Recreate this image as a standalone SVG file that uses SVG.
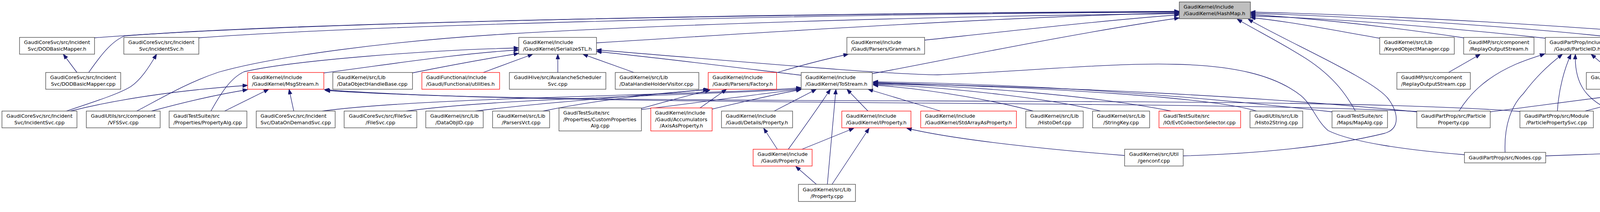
<svg xmlns="http://www.w3.org/2000/svg" width="5177" height="544" viewBox="0 0 5177 544">
<style>
.node rect{fill:#ffffff;stroke:#404040;stroke-width:1.3}
.node.red rect{stroke:#ff0000}
.node.root rect{fill:#bfbfbf}
.node text{font-family:"DejaVu Sans","Liberation Sans",sans-serif;font-size:12.8px;fill:#000000}
.node text.c{text-anchor:middle}
#edges path{fill:none;stroke:#191970;stroke-width:1.3;marker-end:url(#arr)}
</style>
<defs>
<marker id="arr" viewBox="0 0 13 10" refX="13" refY="5" markerWidth="13" markerHeight="10" markerUnits="userSpaceOnUse" orient="auto">
<path d="M0,0L13,5L0,10z" fill="#191970" stroke="#191970" stroke-width="1"/>
</marker>
</defs>
<rect x="0" y="0" width="5177" height="544" fill="#ffffff"/>
<g id="edges">
<path d="M242,97 C650,65 1700,36 3019,29"/>
<path d="M227,186 C255,146 285,105 320,92 C700,62 1700,38 3019,30"/>
<path d="M509,97 C900,68 1900,38 3019,31"/>
<path d="M1527,110 C2000,80 2600,42 3019,33"/>
<path d="M350,285 C420,248 480,212 560,185 C700,145 1000,105 1300,87 C1800,58 2500,40 3019,35"/>
<path d="M2367,103 C2600,78 2850,50 3019,38"/>
<path d="M2233,189 C2450,148 2750,85 3019,46"/>
<path d="M197,186 L162,139"/>
<path d="M170,285 C260,255 310,238 335,222 C360,205 380,175 401,139"/>
<path d="M180,285 C300,255 450,232 634,219"/>
<path d="M388,285 C450,268 540,245 634,230"/>
<path d="M540,285 C565,240 590,200 625,184 C750,155 1100,128 1328,123"/>
<path d="M575,285 L688,229"/>
<path d="M752,285 L740,229"/>
<path d="M825,285 C1100,248 1800,245 2051,225"/>
<path d="M829,187 C1000,165 1150,140 1328,128"/>
<path d="M1056,187 C1150,168 1250,150 1328,137"/>
<path d="M1237,186 L1364,139"/>
<path d="M1428,186 L1428,139"/>
<path d="M1623,186 L1492,139"/>
<path d="M1040,285 C1300,250 1800,245 2051,228"/>
<path d="M1217,285 C1400,262 1650,245 1815,229"/>
<path d="M1390,285 C1500,262 1650,242 1813,230"/>
<path d="M1642,278 C1700,262 1760,245 1818,231"/>
<path d="M1642,281 C1800,262 1950,240 2051,229"/>
<path d="M1792,277 L1860,229"/>
<path d="M1823,280 C1900,262 1990,240 2051,230"/>
<path d="M1990,186 C2060,165 2120,150 2172,139"/>
<path d="M2051,193 C1900,175 1700,150 1527,132"/>
<path d="M1982,285 L2090,229"/>
<path d="M1990,383 L1955,329"/>
<path d="M2018,383 C2060,325 2095,275 2126,229"/>
<path d="M2053,383 L2186,329"/>
<path d="M2090,473 L2037,427"/>
<path d="M2118,473 L2140,229"/>
<path d="M2130,473 L2225,329"/>
<path d="M2222,285 L2168,229"/>
<path d="M2408,285 L2222,229"/>
<path d="M2879,399 C2700,385 2450,360 2321,329"/>
<path d="M3029,400 C3200,395 3400,378 3545,342 C3585,330 3580,290 3555,255 C3520,205 3300,110 3195,49"/>
<path d="M2645,285 C2560,262 2400,230 2235,218"/>
<path d="M2817,285 C2700,255 2450,225 2235,216"/>
<path d="M2998,285 C2800,245 2500,222 2235,214"/>
<path d="M3217,285 C3100,250 2700,225 2235,212"/>
<path d="M3410,287 C3000,240 2600,215 2235,210"/>
<path d="M3470,285 C3450,250 3420,200 3343,150 C3280,110 3220,80 3167,49"/>
<path d="M3627,287 C3200,245 2700,222 2235,214"/>
<path d="M3627,286 C3000,255 1400,275 830,230"/>
<path d="M3891,286 C3300,240 1500,278 832,232"/>
<path d="M3735,285 C3760,245 3800,200 3880,165 C3910,152 3935,145 3955,138"/>
<path d="M3815,287 C3950,270 4150,242 4265,230"/>
<path d="M3987,285 C3990,230 4005,175 4022,139"/>
<path d="M4058,285 L4267,231"/>
<path d="M4127,285 C4060,255 4030,215 4033,139"/>
<path d="M4235,285 L4322,230"/>
<path d="M4128,186 L4073,139"/>
<path d="M4288,186 L4123,139"/>
<path d="M3749,397 C3600,385 3460,365 3400,335 C3370,310 3360,270 3330,245 C3260,190 3150,168 3010,165 C2850,160 2600,185 2400,192 C2250,190 1900,158 1527,128"/>
<path d="M3853,391 C3850,320 3870,270 3900,240 C3930,200 3960,170 4000,139"/>
<path d="M3957,400 C4300,388 4800,365 5015,329"/>
<path d="M5072,285 C5040,235 5000,205 4960,185 C4850,155 4400,145 4134,139"/>
<path d="M5039,285 L4925,229"/>
<path d="M4786,193 C4600,170 4300,150 4135,140"/>
<path d="M4871,293 L4871,229"/>
<path d="M4845,293 C4780,265 4600,200 4400,160 C4300,148 4200,142 4135,140"/>
<path d="M4827,293 C4700,265 4550,240 4456,223"/>
<path d="M4426,293 L4380,229"/>
<path d="M4445,293 C4480,250 4490,210 4465,180 C4420,150 4250,143 4135,140"/>
<path d="M4597,285 L4433,229"/>
<path d="M4638,285 C4550,220 4450,160 4135,140"/>
<path d="M3708,186 L3790,139"/>
<path d="M3747,97 C3600,75 3400,50 3201,37"/>
<path d="M3532,98 C3400,75 3300,55 3201,45"/>
<path d="M3956,98 C3700,70 3400,46 3201,41"/>
<path d="M4144,97 C3800,60 3400,40 3201,34"/>
<path d="M4372,97 C3900,55 3400,35 3201,31"/>
</g>
<g id="n0" class="node root"><rect x="3019" y="5" width="182" height="43"/><text x="3030" y="22.4">GaudiKernel/include</text><text x="3030" y="39">/GaudiKernel/HashMap.h</text></g>
<g id="n1" class="node"><rect x="50" y="96" width="192" height="43"/><text class="c" x="146" y="113.4">GaudiCoreSvc/src/Incident</text><text class="c" x="146" y="130">Svc/DODBasicMapper.h</text></g>
<g id="n2" class="node"><rect x="317" y="96" width="192" height="43"/><text class="c" x="413" y="113.4">GaudiCoreSvc/src/Incident</text><text class="c" x="413" y="130">Svc/IncidentSvc.h</text></g>
<g id="n3" class="node"><rect x="1328" y="96" width="199" height="43"/><text x="1339" y="113.4">GaudiKernel/include</text><text x="1339" y="130">/GaudiKernel/SerializeSTL.h</text></g>
<g id="n4" class="node"><rect x="2168" y="96" width="199" height="43"/><text x="2179" y="113.4">GaudiKernel/include</text><text x="2179" y="130">/Gaudi/Parsers/Grammars.h</text></g>
<g id="n5" class="node"><rect x="3532" y="96" width="191" height="43"/><text x="3543" y="113.4">GaudiKernel/src/Lib</text><text x="3543" y="130">/KeyedObjectManager.cpp</text></g>
<g id="n6" class="node"><rect x="3747" y="96" width="180" height="43"/><text class="c" x="3837" y="113.4">GaudiMP/src/component</text><text class="c" x="3837" y="130">/ReplayOutputStream.h</text></g>
<g id="n7" class="node"><rect x="3956" y="96" width="164" height="43"/><text class="c" x="4038" y="113.4">GaudiPartProp/include</text><text class="c" x="4038" y="130">/Gaudi/ParticleID.h</text></g>
<g id="n8" class="node"><rect x="4144" y="96" width="204" height="43"/><text x="4155" y="113.4">GaudiTestSuite/src</text><text x="4155" y="130">/StringKeys/StringKeyEx.cpp</text></g>
<g id="n9" class="node"><rect x="4372" y="96" width="189" height="43"/><text class="c" x="4466.5" y="113.4">GaudiUtils/src/component</text><text class="c" x="4466.5" y="130">/SignalMonitorSvc.cpp</text></g>
<g id="n10" class="node"><rect x="117" y="186" width="192" height="43"/><text class="c" x="213" y="203.4">GaudiCoreSvc/src/Incident</text><text class="c" x="213" y="220">Svc/DODBasicMapper.cpp</text></g>
<g id="n11" class="node red"><rect x="634" y="186" width="195" height="43"/><text x="645" y="203.4">GaudiKernel/include</text><text x="645" y="220">/GaudiKernel/MsgStream.h</text></g>
<g id="n12" class="node"><rect x="852" y="186" width="204" height="43"/><text x="863" y="203.4">GaudiKernel/src/Lib</text><text x="863" y="220">/DataObjectHandleBase.cpp</text></g>
<g id="n13" class="node red"><rect x="1080" y="186" width="199" height="43"/><text x="1091" y="203.4">GaudiFunctional/include</text><text x="1091" y="220">/Gaudi/Functional/utilities.h</text></g>
<g id="n14" class="node"><rect x="1304" y="186" width="247" height="43"/><text class="c" x="1427.5" y="203.4">GaudiHive/src/AvalancheScheduler</text><text class="c" x="1427.5" y="220">Svc.cpp</text></g>
<g id="n15" class="node"><rect x="1575" y="186" width="214" height="43"/><text x="1586" y="203.4">GaudiKernel/src/Lib</text><text x="1586" y="220">/DataHandleHolderVisitor.cpp</text></g>
<g id="n16" class="node red"><rect x="1813" y="186" width="175" height="43"/><text x="1824" y="203.4">GaudiKernel/include</text><text x="1824" y="220">/Gaudi/Parsers/Factory.h</text></g>
<g id="n17" class="node"><rect x="2051" y="186" width="182" height="43"/><text x="2062" y="203.4">GaudiKernel/include</text><text x="2062" y="220">/GaudiKernel/ToStream.h</text></g>
<g id="n18" class="node"><rect x="3576" y="186" width="188" height="43"/><text x="3587" y="203.4">GaudiMP/src/component</text><text x="3587" y="220">/ReplayOutputStream.cpp</text></g>
<g id="n19" class="node"><rect x="4061" y="186" width="189" height="43"/><text class="c" x="4155.5" y="203.4">GaudiPartProp/src/Particle</text><text class="c" x="4155.5" y="220">ID.cpp</text></g>
<g id="n20" class="node red"><rect x="4273" y="186" width="181" height="43"/><text x="4284" y="203.4">GaudiPartProp/include</text><text x="4284" y="220">/Gaudi/ParticleProperty.h</text></g>
<g id="n21" class="node"><rect x="4786" y="186" width="171" height="43"/><text x="4797" y="203.4">GaudiPartProp/include</text><text x="4797" y="220">/Gaudi/Decays/Decay.h</text></g>
<g id="n22" class="node"><rect x="5" y="285" width="192" height="43"/><text class="c" x="101" y="302.4">GaudiCoreSvc/src/Incident</text><text class="c" x="101" y="319">Svc/IncidentSvc.cpp</text></g>
<g id="n23" class="node"><rect x="221" y="285" width="189" height="43"/><text class="c" x="315.5" y="302.4">GaudiUtils/src/component</text><text class="c" x="315.5" y="319">/VFSSvc.cpp</text></g>
<g id="n24" class="node"><rect x="433" y="285" width="199" height="43"/><text x="444" y="302.4">GaudiTestSuite/src</text><text x="444" y="319">/Properties/PropertyAlg.cpp</text></g>
<g id="n25" class="node"><rect x="656" y="285" width="202" height="43"/><text x="667" y="302.4">GaudiCoreSvc/src/Incident</text><text x="667" y="319">Svc/DataOnDemandSvc.cpp</text></g>
<g id="n26" class="node"><rect x="881" y="285" width="186" height="43"/><text class="c" x="974" y="302.4">GaudiCoreSvc/src/FileSvc</text><text class="c" x="974" y="319">/FileSvc.cpp</text></g>
<g id="n27" class="node"><rect x="1090" y="285" width="147" height="43"/><text class="c" x="1163.5" y="302.4">GaudiKernel/src/Lib</text><text class="c" x="1163.5" y="319">/DataObjID.cpp</text></g>
<g id="n28" class="node"><rect x="1261" y="285" width="146" height="43"/><text class="c" x="1334" y="302.4">GaudiKernel/src/Lib</text><text class="c" x="1334" y="319">/ParsersVct.cpp</text></g>
<g id="n29" class="node"><rect x="1431" y="277" width="211" height="59"/><text x="1442" y="294.1">GaudiTestSuite/src</text><text x="1442" y="310.7">/Properties/CustomProperties</text><text class="c" x="1536.5" y="327.3">Alg.cpp</text></g>
<g id="n30" class="node red"><rect x="1666" y="277" width="157" height="59"/><text x="1677" y="294.1">GaudiKernel/include</text><text x="1677" y="310.7">/Gaudi/Accumulators</text><text class="c" x="1744.5" y="327.3">/AxisAsProperty.h</text></g>
<g id="n31" class="node"><rect x="1847" y="285" width="182" height="43"/><text x="1858" y="302.4">GaudiKernel/include</text><text x="1858" y="319">/Gaudi/Details/Property.h</text></g>
<g id="n32" class="node red"><rect x="2155" y="285" width="177" height="43"/><text x="2166" y="302.4">GaudiKernel/include</text><text x="2166" y="319">/GaudiKernel/IProperty.h</text></g>
<g id="n33" class="node red"><rect x="2357" y="285" width="245" height="43"/><text x="2368" y="302.4">GaudiKernel/include</text><text x="2368" y="319">/GaudiKernel/StdArrayAsProperty.h</text></g>
<g id="n34" class="node"><rect x="2626" y="285" width="147" height="43"/><text class="c" x="2699.5" y="302.4">GaudiKernel/src/Lib</text><text class="c" x="2699.5" y="319">/HistoDef.cpp</text></g>
<g id="n35" class="node"><rect x="2797" y="285" width="146" height="43"/><text class="c" x="2870" y="302.4">GaudiKernel/src/Lib</text><text class="c" x="2870" y="319">/StringKey.cpp</text></g>
<g id="n36" class="node red"><rect x="2967" y="285" width="209" height="43"/><text x="2978" y="302.4">GaudiTestSuite/src</text><text x="2978" y="319">/IO/EvtCollectionSelector.cpp</text></g>
<g id="n37" class="node"><rect x="3200" y="285" width="135" height="43"/><text class="c" x="3267.5" y="302.4">GaudiUtils/src/Lib</text><text class="c" x="3267.5" y="319">/Histo2String.cpp</text></g>
<g id="n38" class="node"><rect x="3410" y="285" width="142" height="43"/><text class="c" x="3481" y="302.4">GaudiTestSuite/src</text><text class="c" x="3481" y="319">/Maps/MapAlg.cpp</text></g>
<g id="n39" class="node"><rect x="3627" y="285" width="188" height="43"/><text class="c" x="3721" y="302.4">GaudiPartProp/src/Particle</text><text class="c" x="3721" y="319">Property.cpp</text></g>
<g id="n40" class="node"><rect x="3891" y="285" width="188" height="43"/><text class="c" x="3985" y="302.4">GaudiPartProp/src/Module</text><text class="c" x="3985" y="319">/ParticlePropertySvc.cpp</text></g>
<g id="n41" class="node"><rect x="4103" y="285" width="193" height="43"/><text class="c" x="4199.5" y="302.4">GaudiPartProp/src/IParticle</text><text class="c" x="4199.5" y="319">PropertySvc.cpp</text></g>
<g id="n42" class="node"><rect x="4320" y="293" width="231" height="27"/><text class="c" x="4435.5" y="310.7">GaudiPartProp/src/NodePIDs.cpp</text></g>
<g id="n43" class="node red"><rect x="4574" y="285" width="170" height="43"/><text x="4585" y="302.4">GaudiTestSuite/src</text><text x="4585" y="319">/PartProp/PartPropAlg.h</text></g>
<g id="n44" class="node"><rect x="4768" y="293" width="207" height="27"/><text class="c" x="4871.5" y="310.7">GaudiPartProp/src/Decay.cpp</text></g>
<g id="n45" class="node red"><rect x="4999" y="285" width="172" height="43"/><text x="5010" y="302.4">GaudiPartProp/include</text><text x="5010" y="319">/Gaudi/Decays/Nodes.h</text></g>
<g id="n46" class="node red"><rect x="1928" y="383" width="151" height="43"/><text class="c" x="2003.5" y="400.4">GaudiKernel/include</text><text class="c" x="2003.5" y="417">/Gaudi/Property.h</text></g>
<g id="n47" class="node"><rect x="2879" y="383" width="150" height="43"/><text class="c" x="2954" y="400.4">GaudiKernel/src/Util</text><text class="c" x="2954" y="417">/genconf.cpp</text></g>
<g id="n48" class="node"><rect x="3749" y="391" width="208" height="27"/><text class="c" x="3853" y="408.7">GaudiPartProp/src/Nodes.cpp</text></g>
<g id="n49" class="node"><rect x="2044" y="473" width="146" height="44"/><text class="c" x="2117" y="490.9">GaudiKernel/src/Lib</text><text class="c" x="2117" y="507.5">/Property.cpp</text></g>
</svg>
